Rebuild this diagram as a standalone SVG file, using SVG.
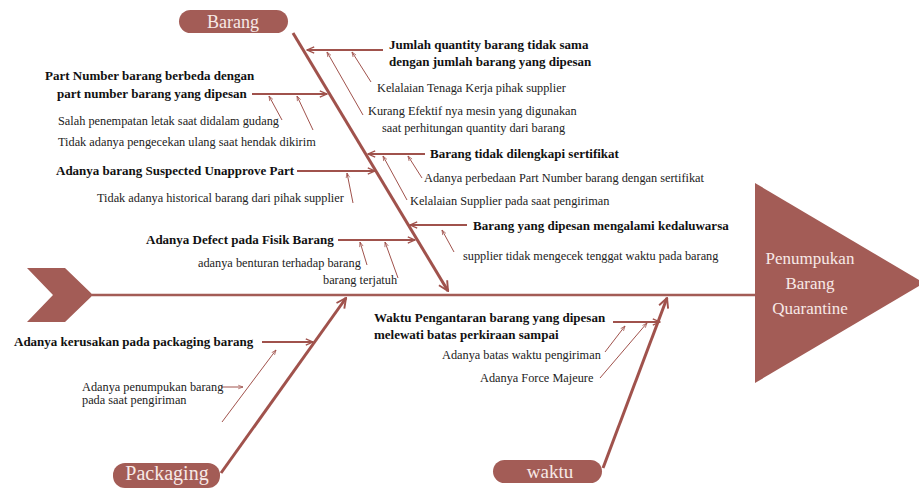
<svg xmlns="http://www.w3.org/2000/svg" width="919" height="488" viewBox="0 0 919 488">
  <defs>
    <style>
      .bold { font-family: "Liberation Serif", "Times New Roman", serif; font-weight: bold; font-size: 13px; fill: #111; }
      .reg { font-family: "Liberation Serif", "Times New Roman", serif; font-size: 12.3px; fill: #222; }
      .label { font-family: "Liberation Serif", "Times New Roman", serif; fill: #f7e9e7; text-anchor: middle; }
      .shape { fill: #a35c56; }
      .spine { stroke: #a35c56; stroke-width: 2.5; fill: none; }
      .bone { stroke: #a0524c; stroke-width: 3; fill: none; marker-end: url(#bigHead); }
      .cause { stroke: #a0524c; stroke-width: 1.8; fill: none; marker-end: url(#midHead); }
      .sub { stroke: #a0524c; stroke-width: 1; fill: none; marker-end: url(#smallHead); }
    </style>
    <marker id="bigHead" viewBox="0 0 10 10" refX="9" refY="5" markerWidth="4" markerHeight="4" orient="auto" markerUnits="strokeWidth">
      <path d="M1,1 L9,5 L1,9" fill="none" stroke="#a0524c" stroke-width="1.6"/>
    </marker>
    <marker id="midHead" viewBox="0 0 10 10" refX="9" refY="5" markerWidth="5" markerHeight="5" orient="auto" markerUnits="strokeWidth">
      <path d="M1,1.5 L9,5 L1,8.5" fill="none" stroke="#a0524c" stroke-width="1.5"/>
    </marker>
    <marker id="smallHead" viewBox="0 0 10 10" refX="9" refY="5" markerWidth="6" markerHeight="6" orient="auto" markerUnits="strokeWidth">
      <path d="M1,2 L9,5 L1,8" fill="none" stroke="#a0524c" stroke-width="1.2"/>
    </marker>
  </defs>

  <rect width="919" height="488" fill="#ffffff"/>

  <!-- Head and tail -->
  <g id="tail">
    <polygon class="shape" points="27,268 65,268 93,295 65,322 27,322 53,295"/>
  </g>
  <g id="effect">
    <polygon class="shape" points="755,183 924,283 755,383"/>
    <text class="label" x="810" y="264" font-size="17">Penumpukan</text>
    <text class="label" x="810" y="289" font-size="17">Barang</text>
    <text class="label" x="810" y="314" font-size="17">Quarantine</text>
  </g>

  <!-- Category labels -->
  <g id="cat-barang">
    <rect class="shape" x="179" y="10" width="109" height="23" rx="11.5"/>
    <text class="label" x="233" y="28" font-size="18">Barang</text>
  </g>
  <g id="cat-packaging">
    <rect class="shape" x="113" y="463" width="107" height="25" rx="12"/>
    <text class="label" x="167" y="480" font-size="20">Packaging</text>
  </g>
  <g id="cat-waktu">
    <rect class="shape" x="493" y="460" width="109" height="23" rx="11.5"/>
    <text class="label" x="550" y="478" font-size="19">waktu</text>
  </g>

  <!-- Connectors -->
  <g id="connectors">
    <line class="spine" x1="92" y1="295" x2="756" y2="295"/>
    <line class="bone" x1="293" y1="33" x2="448" y2="291"/>
    <line class="bone" x1="221" y1="473" x2="346" y2="298"/>
    <line class="bone" x1="603" y1="468" x2="667" y2="298"/>

    <line class="cause" x1="383" y1="50" x2="307" y2="50"/>
    <line class="sub" x1="363" y1="115" x2="327" y2="52"/>
    <line class="sub" x1="371" y1="82" x2="352" y2="52"/>

    <line class="cause" x1="252" y1="94" x2="327" y2="94"/>
    <line class="sub" x1="282" y1="120" x2="269" y2="96"/>
    <line class="sub" x1="313" y1="130" x2="297" y2="96"/>

    <line class="cause" x1="425" y1="154" x2="368" y2="154"/>
    <line class="sub" x1="407" y1="200" x2="383" y2="156"/>
    <line class="sub" x1="422" y1="178" x2="408" y2="156"/>

    <line class="cause" x1="297" y1="171" x2="375" y2="171"/>
    <line class="sub" x1="353" y1="203" x2="347" y2="173"/>

    <line class="cause" x1="467" y1="225" x2="410" y2="225"/>
    <line class="sub" x1="454" y1="252" x2="442" y2="230"/>

    <line class="cause" x1="338" y1="240" x2="415" y2="240"/>
    <line class="sub" x1="367" y1="265" x2="360" y2="242"/>
    <line class="sub" x1="398" y1="278" x2="385" y2="242"/>

    <line class="cause" x1="262" y1="342" x2="313" y2="342"/>
    <line class="sub" x1="222" y1="422" x2="276" y2="350"/>
    <line class="sub" x1="221" y1="387" x2="243" y2="387"/>

    <line class="cause" x1="613" y1="322" x2="660" y2="322"/>
    <line class="sub" x1="605" y1="352" x2="625" y2="326"/>
    <line class="sub" x1="600" y1="378" x2="647" y2="323"/>
  </g>

  <!-- Causes: Barang -->
  <g id="cause-jumlah">
    <text class="bold" x="389" y="49">Jumlah quantity barang tidak sama</text>
    <text class="bold" x="389" y="66">dengan jumlah barang yang dipesan</text>
    <text class="reg" x="377" y="92">Kelalaian Tenaga Kerja pihak supplier</text>
    <text class="reg" x="368" y="115">Kurang Efektif nya mesin yang digunakan</text>
    <text class="reg" x="382" y="132">saat perhitungan quantity dari barang</text>
  </g>
  <g id="cause-partnumber">
    <text class="bold" x="45" y="80">Part Number barang berbeda dengan</text>
    <text class="bold" x="57" y="98">part number barang yang dipesan</text>
    <text class="reg" x="58" y="125">Salah penempatan letak saat didalam gudang</text>
    <text class="reg" x="58" y="146">Tidak adanya pengecekan ulang saat hendak dikirim</text>
  </g>
  <g id="cause-sertifikat">
    <text class="bold" x="430" y="158">Barang tidak dilengkapi sertifikat</text>
    <text class="reg" x="424" y="182">Adanya perbedaan Part Number barang dengan sertifikat</text>
    <text class="reg" x="410" y="205">Kelalaian Supplier pada saat pengiriman</text>
  </g>
  <g id="cause-suspected">
    <text class="bold" x="56" y="175">Adanya barang Suspected Unapprove Part</text>
    <text class="reg" x="97" y="202">Tidak adanya historical barang dari pihak supplier</text>
  </g>
  <g id="cause-kedaluwarsa">
    <text class="bold" x="473" y="230">Barang yang dipesan mengalami kedaluwarsa</text>
    <text class="reg" x="463" y="260">supplier tidak mengecek tenggat waktu pada barang</text>
  </g>
  <g id="cause-defect">
    <text class="bold" x="146" y="244">Adanya Defect pada Fisik Barang</text>
    <text class="reg" x="198" y="267">adanya benturan terhadap barang</text>
    <text class="reg" x="323" y="284">barang terjatuh</text>
  </g>

  <!-- Causes: Packaging -->
  <g id="cause-kerusakan">
    <text class="bold" x="14" y="346">Adanya kerusakan pada packaging barang</text>
    <text class="reg" x="82" y="391" font-size="11.8px">Adanya penumpukan barang</text>
    <text class="reg" x="82" y="404" font-size="11.8px">pada saat pengiriman</text>
  </g>

  <!-- Causes: waktu -->
  <g id="cause-pengantaran">
    <text class="bold" x="374" y="322">Waktu Pengantaran barang yang dipesan</text>
    <text class="bold" x="374" y="339">melewati batas perkiraan sampai</text>
    <text class="reg" x="442" y="359">Adanya batas waktu pengiriman</text>
    <text class="reg" x="480" y="382">Adanya Force Majeure</text>
  </g>
</svg>
